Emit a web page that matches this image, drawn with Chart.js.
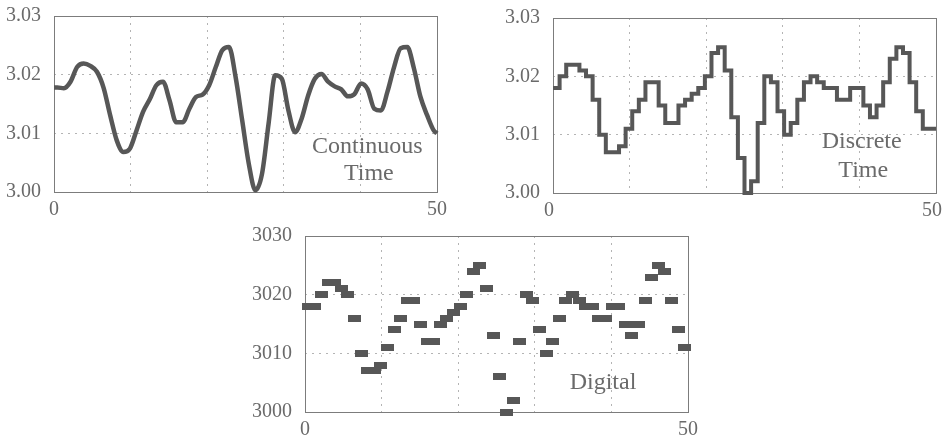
<!DOCTYPE html>
<html>
<head>
<meta charset="utf-8">
<title>Continuous, discrete and digital signal</title>
<script src="https://cdn.jsdelivr.net/npm/chart.js@4.4.1/dist/chart.umd.min.js"></script>
<style>
  body { margin: 0; background: #fff; width: 944px; height: 438px; position: relative; overflow: hidden; }
  canvas { position: absolute; }
</style>
</head>
<body>
<canvas id="continuousChart" width="470" height="225" style="left:0;top:0"></canvas>
<canvas id="discreteChart" width="472" height="225" style="left:472px;top:0"></canvas>
<canvas id="digitalChart" width="560" height="216" style="left:200px;top:222px"></canvas>
<script>
// 58 samples spread over the 0..50 time axis
const digitalLevels = [
	3018, 3018, 3020, 3022, 3022, 3021, 3020, 3016, 3010, 3007,
	3007, 3008, 3011, 3014, 3016, 3019, 3019, 3015, 3012, 3012,
	3015, 3016, 3017, 3018, 3020, 3024, 3025, 3021, 3013, 3006,
	3000, 3002, 3012, 3020, 3019, 3014, 3010, 3012, 3016, 3019,
	3020, 3019, 3018, 3018, 3016, 3016, 3018, 3018, 3015, 3013,
	3015, 3019, 3023, 3025, 3024, 3019, 3014, 3011,
];

// continuous curve, read at the same sample centres
const analogLevels = [
	3.0178, 3.0177, 3.0188, 3.0213, 3.0219, 3.0215, 3.0205, 3.0178, 3.0131, 3.0088,
	3.0068, 3.0074, 3.0105, 3.0137, 3.0158, 3.0182, 3.0188, 3.0156, 3.0119, 3.0119,
	3.0142, 3.0162, 3.0166, 3.0182, 3.0213, 3.0242, 3.0247, 3.0196, 3.0122, 3.0048,
	3.0003, 3.0031, 3.0117, 3.0199, 3.0193, 3.0139, 3.0102, 3.0125, 3.0165, 3.0193,
	3.0201, 3.0188, 3.0180, 3.0175, 3.0163, 3.0167, 3.0185, 3.0175, 3.0142, 3.0139,
	3.0171, 3.0213, 3.0245, 3.0247, 3.0211, 3.0162, 3.0131, 3.0105,
];
const analogStart = 3.0178;
const analogEnd = 3.0100;

const timeRange = [0, 50];
const timeGrid = [0, 10, 20, 30, 40, 50];
const timeLabels = [0, 50];
const voltTicks = [3.00, 3.01, 3.02, 3.03];
const codeTicks = [3000, 3010, 3020, 3030];

const FONT = "'Liberation Serif', 'Times New Roman', serif";
const INK = '#575757';
const TEXT = '#6a6a6a';

const step = (timeRange[1] - timeRange[0]) / digitalLevels.length;

// frame round the plot area + the text labels inside it
const framePlugin = {
	id: 'frame',
	beforeDatasetsDraw(chart) {
		const { ctx, chartArea: a } = chart;
		ctx.save();
		ctx.strokeStyle = '#7c7c7c';
		ctx.lineWidth = 1;
		ctx.strokeRect(Math.round(a.left) + 0.5, Math.round(a.top) + 0.5, Math.round(a.right - a.left), Math.round(a.bottom - a.top));
		ctx.restore();
	},
	afterDatasetsDraw(chart, args, opts) {
		const { ctx, scales } = chart;
		ctx.save();
		ctx.font = '24px ' + FONT;
		ctx.fillStyle = TEXT;
		ctx.textAlign = 'center';
		ctx.textBaseline = 'alphabetic';
		(opts.lines || []).forEach((l) => {
			ctx.fillText(l.text, scales.x.getPixelForValue(l.x), scales.y.getPixelForValue(l.y));
		});
		ctx.restore();
	},
};

const gridStyle = { color: '#b4b4b4', lineWidth: 1, drawTicks: false };

const xScale = (height, labelOffset) => ({
	type: 'linear',
	min: timeRange[0],
	max: timeRange[1],
	afterBuildTicks: (s) => { s.ticks = timeGrid.map((v) => ({ value: v })); },
	ticks: {
		callback: (v) => (timeLabels.includes(v) ? String(v) : ''),
		font: { family: FONT, size: 20 },
		color: TEXT,
		padding: 6,
		maxRotation: 0,
		autoSkip: false,
		labelOffset: labelOffset,
	},
	grid: gridStyle,
	border: { display: false, dash: [2, 5] },
	afterFit: (s) => { s.height = height; s.paddingLeft = 0; s.paddingRight = 0; },
});

const yScale = (width, ticks, fmt) => ({
	type: 'linear',
	min: ticks[0],
	max: ticks[ticks.length - 1],
	afterBuildTicks: (s) => { s.ticks = ticks.map((v) => ({ value: v })); },
	ticks: {
		callback: fmt,
		font: { family: FONT, size: 20 },
		color: TEXT,
		padding: 13,
	},
	grid: gridStyle,
	border: { display: false, dash: [2, 5] },
	afterFit: (s) => { s.width = width; s.paddingTop = 0; s.paddingBottom = 0; },
});

const baseOptions = (padding, x, y, lines) => ({
	responsive: false,
	animation: false,
	layout: { padding: padding },
	scales: { x: x, y: y },
	plugins: {
		legend: { display: false },
		tooltip: { enabled: false },
		frame: { lines: lines },
	},
});

// continuous time
const analogPoints = [{ x: timeRange[0], y: analogStart }]
	.concat(analogLevels.map((v, n) => ({ x: (n + 0.5) * step, y: v })))
	.concat([{ x: timeRange[1], y: analogEnd }]);

new Chart(document.getElementById('continuousChart'), {
	type: 'line',
	data: {
		datasets: [{
			data: analogPoints,
			borderColor: INK,
			borderWidth: 4.5,
			pointRadius: 0,
			cubicInterpolationMode: 'monotone',
			clip: false,
		}],
	},
	options: baseOptions(
		{ top: 16, right: 33, left: 0, bottom: 0 },
		xScale(33, 0),
		yScale(54, voltTicks, (v) => v.toFixed(2)),
		[{ text: 'Continuous', x: 40.9, y: 3.0066 }, { text: 'Time', x: 41.1, y: 3.0020 }]
	),
	plugins: [framePlugin],
});

// discrete time: hold each sample over its interval
const discretePoints = digitalLevels.map((v, n) => ({ x: n * step, y: v / 1000 }))
	.concat([{ x: timeRange[1], y: digitalLevels[digitalLevels.length - 1] / 1000 }]);

new Chart(document.getElementById('discreteChart'), {
	type: 'line',
	data: {
		datasets: [{
			data: discretePoints,
			borderColor: INK,
			borderWidth: 4,
			pointRadius: 0,
			stepped: 'after',
			borderJoinStyle: 'miter',
			clip: false,
		}],
	},
	options: baseOptions(
		{ top: 18, right: 8, left: 0, bottom: 0 },
		xScale(32, -4),
		yScale(81, voltTicks, (v) => v.toFixed(2)),
		[{ text: 'Discrete', x: 40.3, y: 3.0077 }, { text: 'Time', x: 40.5, y: 3.0028 }]
	),
	plugins: [framePlugin],
});

// digital: one flat marker per sample
const marker = document.createElement('canvas');
marker.width = 13;
marker.height = 7;
const mctx = marker.getContext('2d');
mctx.fillStyle = INK;
mctx.fillRect(0, 0, 13, 7);

new Chart(document.getElementById('digitalChart'), {
	type: 'line',
	data: {
		datasets: [{
			data: digitalLevels.map((v, n) => ({ x: (n + 0.5) * step, y: v })),
			showLine: false,
			pointStyle: marker,
			pointRadius: 4,
			clip: false,
		}],
	},
	options: baseOptions(
		{ top: 14, right: 72, left: 0, bottom: 0 },
		xScale(26, 0),
		yScale(105, codeTicks, (v) => String(v)),
		[{ text: 'Digital', x: 38.9, y: 3003.9 }]
	),
	plugins: [framePlugin],
});
</script>
</body>
</html>
